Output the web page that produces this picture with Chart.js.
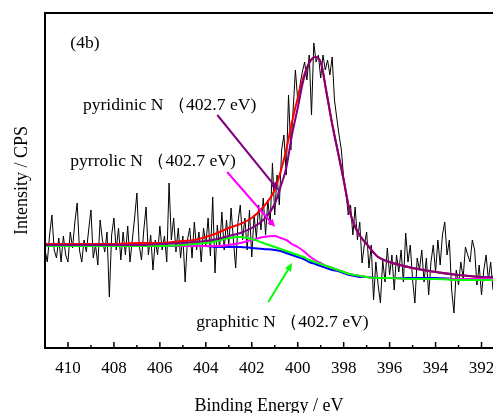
<!DOCTYPE html>
<html>
<head>
<meta charset="utf-8">
<script src="https://cdn.jsdelivr.net/npm/chart.js@4.4.1/dist/chart.umd.min.js"></script>
<style>
  html, body { margin: 0; padding: 0; background: #fff; }
  #wrap { width: 493px; height: 413px; position: relative; }
</style>
</head>
<body>
<div id="wrap"><canvas id="xps"></canvas></div>
<script>
// --- raw spectrum (N 1s), one reading every 0.1 eV from 411.0 eV down to 391.5 eV ---
const RAW_START = 411.0;
const RAW_STEP = 0.1;
const rawCounts = [
  98, 86, 113, 133, 98, 90, 110, 86, 112, 93,
  86, 116, 100, 126, 145, 98, 86, 108, 96, 118,
  138, 90, 103, 83, 128, 108, 96, 116, 51, 113,
  130, 98, 120, 88, 116, 93, 122, 86, 108, 130,
  155, 103, 88, 118, 141, 93, 113, 78, 108, 93,
  122, 98, 112, 86, 165, 108, 130, 96, 120, 90,
  112, 66, 108, 120, 90, 126, 98, 116, 86, 120,
  103, 130, 92, 151, 75, 123, 100, 136, 98, 128,
  103, 140, 108, 80, 126, 143, 108, 130, 98, 138,
  91, 133, 110, 143, 118, 150, 113, 148, 123, 185,
  133, 173, 143, 198, 213, 173, 253, 198, 238, 278,
  248, 263, 276, 286, 268, 293, 233, 305, 286, 293,
  270, 293, 278, 288, 273, 291, 248, 230, 213, 198,
  170, 156, 133, 143, 113, 141, 108, 126, 85, 103,
  116, 80, 103, 48, 86, 63, 45, 88, 66, 100,
  73, 93, 58, 93, 76, 98, 66, 115, 86, 103,
  68, 45, 90, 78, 98, 66, 90, 53, 86, 103,
  76, 108, 83, 113, 126, 93, 108, 58, 35, 78,
  63, 86, 70, 101, 93, 86, 108, 98, 63, 83,
  53, 78, 93, 68, 86, 58
];

// --- fitted components, sampled at these energies ---
const fitEnergy = [411, 410, 409, 408, 407, 406, 405, 404.5, 404, 403.5, 403, 402.5, 402, 401.5, 401,
  400.75, 400.5, 400.25, 400, 399.75, 399.5, 399.25, 399, 398.75, 398.5, 398.25, 398, 397.75, 397.5,
  397.25, 397, 396.5, 396, 395, 394, 393, 392, 391.5];
const fitTotal = [104, 104, 104, 104, 105, 105, 107, 108, 111, 115, 120, 124, 130, 141, 158,
  176, 198, 226, 250, 271, 285, 291, 286, 256, 224, 196, 168, 138, 121,
  111, 104, 91, 86, 80, 76, 73, 71, 71];
const fitPyridinic = [103, 103, 103, 103, 103, 104, 105, 106, 107, 109, 112, 115, 120, 128, 144,
  161, 180, 213, 240, 268, 285, 291, 286, 256, 224, 196, 168, 138, 121,
  111, 104, 91, 86, 80, 76, 73, 71, 71];
const fitPyrrolic = [102, 102, 102, 102, 102, 102, 102, 102, 102, 102, 103, 105, 108, 111, 112,
  110, 108, 104, 101, 97, 92, 88, 85, 82, 80, 78, 76, 74, 73,
  72, 71, 70, 70, 69, 69, 69, 69, 69];
const fitGraphitic = [102, 102, 102, 102, 102, 102, 103, 104, 105, 107, 110, 111, 109, 105, 101,
  99, 97, 95, 93, 91, 88, 86, 84, 82, 80, 78, 76, 74, 73,
  72, 71, 70, 70, 69, 69, 68, 68, 68];
const fitBackground = [102, 102, 102, 102, 102, 102, 102, 102, 102, 101, 101, 101, 100, 99, 98,
  97, 95, 93, 91, 89, 86, 84, 82, 80, 78, 77, 75, 73, 72,
  71, 71, 70, 70, 70, 70, 69, 69, 69];

// --- axis ---
const majorTicks = [410, 408, 406, 404, 402, 400, 398, 396, 394, 392];
const minorTicks = [411, 409, 407, 405, 403, 401, 399, 397, 395, 393];
const xTitle = 'Binding Energy / eV';
const yTitle = 'Intensity / CPS';

// labels and arrows (placed in data units)
const notes = [
  { text: '(4b)', e: 409.9, v: 300 },
  { text: 'pyridinic N （402.7 eV)', e: 409.35, v: 238 },
  { text: 'pyrrolic N （402.7 eV)', e: 409.9, v: 182 },
  { text: 'graphitic N （402.7 eV)', e: 404.42, v: 21 }
];
const arrows = [
  { from: [403.5, 233], to: [400.85, 158], color: '#800080' },
  { from: [403.07, 176], to: [400.98, 121], color: '#ff00ff' },
  { from: [401.28, 46], to: [400.24, 85], color: '#00ff00' }
];

const SERIF = '"Liberation Serif", "Times New Roman", "DejaVu Serif", serif';

const rawData = rawCounts.map((c, i) => ({ x: +(RAW_START - i * RAW_STEP).toFixed(1), y: c }));
const pts = arr => arr.map((v, i) => ({ x: fitEnergy[i], y: v }));

// order: smaller number is drawn on top
function fitLine(arr, color, order) {
  return {
    data: pts(arr),
    borderColor: color,
    borderWidth: 2,
    pointRadius: 0,
    cubicInterpolationMode: 'monotone',
    fill: false,
    order: order
  };
}

const framePlugin = {
  id: 'frame',
  afterDraw(chart) {
    const { ctx, chartArea: a, scales: { x, y } } = chart;
    ctx.save();
    ctx.strokeStyle = '#000';
    ctx.lineWidth = 2;
    ctx.beginPath();
    ctx.moveTo(a.right + 4, a.top);
    ctx.lineTo(a.left, a.top);
    ctx.lineTo(a.left, a.bottom);
    ctx.lineTo(a.right + 4, a.bottom);
    ctx.stroke();

    // inward tick marks
    ctx.lineWidth = 1.5;
    majorTicks.concat(minorTicks).forEach(v => {
      const px = x.getPixelForValue(v);
      const len = majorTicks.includes(v) ? 6 : 3;
      ctx.beginPath();
      ctx.moveTo(px, a.bottom);
      ctx.lineTo(px, a.bottom - len);
      ctx.stroke();
    });

    // arrows
    arrows.forEach(ar => {
      const x1 = x.getPixelForValue(ar.from[0]), y1 = y.getPixelForValue(ar.from[1]);
      const x2 = x.getPixelForValue(ar.to[0]), y2 = y.getPixelForValue(ar.to[1]);
      const ang = Math.atan2(y2 - y1, x2 - x1);
      const hl = 8, hw = 3.5;
      ctx.strokeStyle = ar.color;
      ctx.fillStyle = ar.color;
      ctx.lineWidth = 2;
      ctx.beginPath();
      ctx.moveTo(x1, y1);
      ctx.lineTo(x2 - hl * Math.cos(ang), y2 - hl * Math.sin(ang));
      ctx.stroke();
      ctx.beginPath();
      ctx.moveTo(x2, y2);
      ctx.lineTo(x2 - hl * Math.cos(ang) + hw * Math.sin(ang), y2 - hl * Math.sin(ang) - hw * Math.cos(ang));
      ctx.lineTo(x2 - hl * Math.cos(ang) - hw * Math.sin(ang), y2 - hl * Math.sin(ang) + hw * Math.cos(ang));
      ctx.closePath();
      ctx.fill();
    });

    // labels
    ctx.fillStyle = '#000';
    ctx.font = '17.6px ' + SERIF;
    ctx.textAlign = 'left';
    ctx.textBaseline = 'alphabetic';
    notes.forEach(n => {
      ctx.fillText(n.text, x.getPixelForValue(n.e), y.getPixelForValue(n.v));
    });
    ctx.restore();
  }
};

new Chart(document.getElementById('xps'), {
  type: 'line',
  data: {
    datasets: [
      { data: rawData, borderColor: '#000', borderWidth: 1, pointRadius: 0, tension: 0, fill: false, order: 10 },
      fitLine(fitBackground, '#0000ff', 6),
      fitLine(fitPyrrolic, '#ff00ff', 5),
      fitLine(fitGraphitic, '#00ff00', 4),
      fitLine(fitTotal, '#ff0000', 3),
      fitLine(fitPyridinic, '#800080', 2)
    ]
  },
  options: {
    responsive: true,
    maintainAspectRatio: false,
    animation: false,
    events: [],
    layout: { padding: { top: 13, right: 0, left: 0, bottom: 0 } },
    plugins: { legend: { display: false }, tooltip: { enabled: false } },
    scales: {
      x: {
        type: 'linear',
        reverse: true,
        min: 391.5,
        max: 411,
        afterBuildTicks: s => { s.ticks = majorTicks.concat(minorTicks).sort((a, b) => b - a).map(v => ({ value: v })); },
        afterFit: s => { s.height = 65; s.paddingLeft = 0; s.paddingRight = 0; },
        grid: { display: false, drawTicks: false },
        border: { display: false },
        ticks: {
          autoSkip: false,
          maxRotation: 0,
          padding: 10,
          color: '#000',
          font: { family: SERIF, size: 17 },
          callback: v => majorTicks.includes(v) ? String(v) : ''
        },
        title: {
          display: true,
          text: xTitle,
          color: '#000',
          font: { family: SERIF, size: 18, lineHeight: 1 },
          padding: { top: 0, bottom: -2 }
        }
      },
      y: {
        min: 0,
        max: 335,
        afterFit: s => { s.width = 45; s.paddingTop = 0; s.paddingBottom = 0; },
        grid: { display: false, drawTicks: false },
        border: { display: false },
        ticks: { display: false },
        title: {
          display: true,
          text: yTitle,
          color: '#000',
          font: { family: SERIF, size: 18, lineHeight: 1 },
          padding: { top: 13, bottom: 0 }
        }
      }
    }
  },
  plugins: [framePlugin]
});
</script>
</body>
</html>
